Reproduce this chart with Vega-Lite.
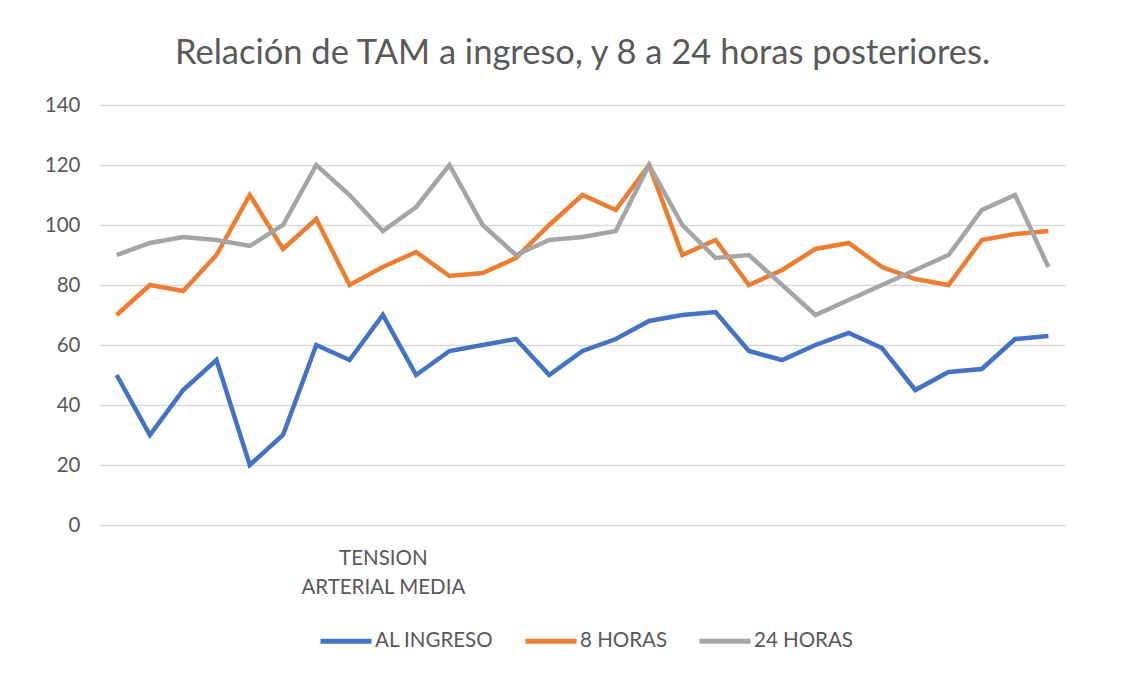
{
  "$schema": "https://vega.github.io/schema/vega-lite/v6.json",
  "width": 965,
  "height": 420,
  "autosize": {"type": "none"},
  "padding": {"left": 100, "top": 105, "right": 80, "bottom": 150},
  "background": "white",
  "view": {"stroke": null},
  "title": {
    "text": "Relación de TAM  a ingreso, y 8 a 24 horas posteriores.",
    "fontSize": 34.5,
    "font": "Lato",
    "fontWeight": "normal",
    "color": "#595959",
    "anchor": "middle",
    "offset": 24
  },
  "data": {
    "values": [
      {"caso": 1, "serie": "AL INGRESO", "valor": 50},
      {"caso": 2, "serie": "AL INGRESO", "valor": 30},
      {"caso": 3, "serie": "AL INGRESO", "valor": 45},
      {"caso": 4, "serie": "AL INGRESO", "valor": 55},
      {"caso": 5, "serie": "AL INGRESO", "valor": 20},
      {"caso": 6, "serie": "AL INGRESO", "valor": 30},
      {"caso": 7, "serie": "AL INGRESO", "valor": 60},
      {"caso": 8, "serie": "AL INGRESO", "valor": 55},
      {"caso": 9, "serie": "AL INGRESO", "valor": 70},
      {"caso": 10, "serie": "AL INGRESO", "valor": 50},
      {"caso": 11, "serie": "AL INGRESO", "valor": 58},
      {"caso": 12, "serie": "AL INGRESO", "valor": 60},
      {"caso": 13, "serie": "AL INGRESO", "valor": 62},
      {"caso": 14, "serie": "AL INGRESO", "valor": 50},
      {"caso": 15, "serie": "AL INGRESO", "valor": 58},
      {"caso": 16, "serie": "AL INGRESO", "valor": 62},
      {"caso": 17, "serie": "AL INGRESO", "valor": 68},
      {"caso": 18, "serie": "AL INGRESO", "valor": 70},
      {"caso": 19, "serie": "AL INGRESO", "valor": 71},
      {"caso": 20, "serie": "AL INGRESO", "valor": 58},
      {"caso": 21, "serie": "AL INGRESO", "valor": 55},
      {"caso": 22, "serie": "AL INGRESO", "valor": 60},
      {"caso": 23, "serie": "AL INGRESO", "valor": 64},
      {"caso": 24, "serie": "AL INGRESO", "valor": 59},
      {"caso": 25, "serie": "AL INGRESO", "valor": 45},
      {"caso": 26, "serie": "AL INGRESO", "valor": 51},
      {"caso": 27, "serie": "AL INGRESO", "valor": 52},
      {"caso": 28, "serie": "AL INGRESO", "valor": 62},
      {"caso": 29, "serie": "AL INGRESO", "valor": 63},
      {"caso": 1, "serie": "8 HORAS", "valor": 70},
      {"caso": 2, "serie": "8 HORAS", "valor": 80},
      {"caso": 3, "serie": "8 HORAS", "valor": 78},
      {"caso": 4, "serie": "8 HORAS", "valor": 90},
      {"caso": 5, "serie": "8 HORAS", "valor": 110},
      {"caso": 6, "serie": "8 HORAS", "valor": 92},
      {"caso": 7, "serie": "8 HORAS", "valor": 102},
      {"caso": 8, "serie": "8 HORAS", "valor": 80},
      {"caso": 9, "serie": "8 HORAS", "valor": 86},
      {"caso": 10, "serie": "8 HORAS", "valor": 91},
      {"caso": 11, "serie": "8 HORAS", "valor": 83},
      {"caso": 12, "serie": "8 HORAS", "valor": 84},
      {"caso": 13, "serie": "8 HORAS", "valor": 89},
      {"caso": 14, "serie": "8 HORAS", "valor": 100},
      {"caso": 15, "serie": "8 HORAS", "valor": 110},
      {"caso": 16, "serie": "8 HORAS", "valor": 105},
      {"caso": 17, "serie": "8 HORAS", "valor": 120},
      {"caso": 18, "serie": "8 HORAS", "valor": 90},
      {"caso": 19, "serie": "8 HORAS", "valor": 95},
      {"caso": 20, "serie": "8 HORAS", "valor": 80},
      {"caso": 21, "serie": "8 HORAS", "valor": 85},
      {"caso": 22, "serie": "8 HORAS", "valor": 92},
      {"caso": 23, "serie": "8 HORAS", "valor": 94},
      {"caso": 24, "serie": "8 HORAS", "valor": 86},
      {"caso": 25, "serie": "8 HORAS", "valor": 82},
      {"caso": 26, "serie": "8 HORAS", "valor": 80},
      {"caso": 27, "serie": "8 HORAS", "valor": 95},
      {"caso": 28, "serie": "8 HORAS", "valor": 97},
      {"caso": 29, "serie": "8 HORAS", "valor": 98},
      {"caso": 1, "serie": "24 HORAS", "valor": 90},
      {"caso": 2, "serie": "24 HORAS", "valor": 94},
      {"caso": 3, "serie": "24 HORAS", "valor": 96},
      {"caso": 4, "serie": "24 HORAS", "valor": 95},
      {"caso": 5, "serie": "24 HORAS", "valor": 93},
      {"caso": 6, "serie": "24 HORAS", "valor": 100},
      {"caso": 7, "serie": "24 HORAS", "valor": 120},
      {"caso": 8, "serie": "24 HORAS", "valor": 110},
      {"caso": 9, "serie": "24 HORAS", "valor": 98},
      {"caso": 10, "serie": "24 HORAS", "valor": 106},
      {"caso": 11, "serie": "24 HORAS", "valor": 120},
      {"caso": 12, "serie": "24 HORAS", "valor": 100},
      {"caso": 13, "serie": "24 HORAS", "valor": 90},
      {"caso": 14, "serie": "24 HORAS", "valor": 95},
      {"caso": 15, "serie": "24 HORAS", "valor": 96},
      {"caso": 16, "serie": "24 HORAS", "valor": 98},
      {"caso": 17, "serie": "24 HORAS", "valor": 120},
      {"caso": 18, "serie": "24 HORAS", "valor": 100},
      {"caso": 19, "serie": "24 HORAS", "valor": 89},
      {"caso": 20, "serie": "24 HORAS", "valor": 90},
      {"caso": 21, "serie": "24 HORAS", "valor": 80},
      {"caso": 22, "serie": "24 HORAS", "valor": 70},
      {"caso": 23, "serie": "24 HORAS", "valor": 75},
      {"caso": 24, "serie": "24 HORAS", "valor": 80},
      {"caso": 25, "serie": "24 HORAS", "valor": 85},
      {"caso": 26, "serie": "24 HORAS", "valor": 90},
      {"caso": 27, "serie": "24 HORAS", "valor": 105},
      {"caso": 28, "serie": "24 HORAS", "valor": 110},
      {"caso": 29, "serie": "24 HORAS", "valor": 86}
    ]
  },
  "mark": {"type": "line", "strokeWidth": 4.5, "strokeJoin": "miter", "strokeCap": "butt"},
  "encoding": {
    "x": {
      "field": "caso",
      "type": "ordinal",
      "scale": {"type": "point", "padding": 0.5},
      "axis": {
        "title": null,
        "domain": false,
        "ticks": false,
        "grid": false,
        "labelAngle": 0,
        "labelExpr": "datum.value == 9 ? ['TENSION', 'ARTERIAL MEDIA'] : ''",
        "labelFont": "Lato",
        "labelFontSize": 20.5,
        "labelColor": "#595959",
        "labelLineHeight": 29,
        "labelPadding": 23,
        "labelOverlap": false
      }
    },
    "y": {
      "field": "valor",
      "type": "quantitative",
      "scale": {"domain": [0, 140], "nice": false},
      "axis": {
        "title": null,
        "values": [0, 20, 40, 60, 80, 100, 120, 140],
        "domain": false,
        "ticks": false,
        "gridColor": "#d9d9d9",
        "gridWidth": 1.5,
        "labelFont": "Lato",
        "labelFontSize": 20.5,
        "labelColor": "#595959",
        "labelPadding": 20
      }
    },
    "color": {
      "field": "serie",
      "type": "nominal",
      "sort": ["AL INGRESO", "8 HORAS", "24 HORAS"],
      "scale": {"domain": ["AL INGRESO", "8 HORAS", "24 HORAS"], "range": ["#4472C4", "#ED7D31", "#A5A5A5"]},
      "legend": {
        "title": null,
        "orient": "none",
        "direction": "horizontal",
        "legendX": 218,
        "legendY": 508,
        "symbolType": "stroke",
        "symbolSize": 2601,
        "symbolStrokeWidth": 5,
        "labelFont": "Lato",
        "labelFontSize": 20.5,
        "labelColor": "#595959",
        "labelOffset": 1,
        "columnPadding": 21
      }
    }
  }
}
